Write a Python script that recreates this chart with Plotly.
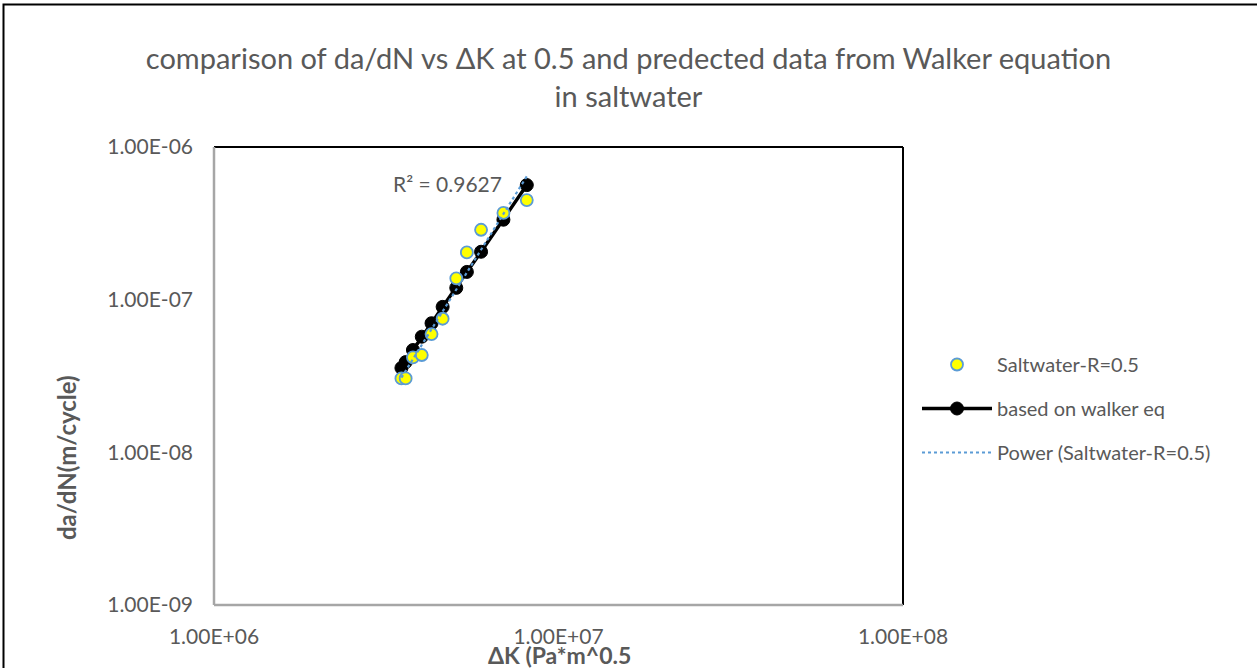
import numpy as np
import plotly.graph_objects as go

# ---- data ----
delta_k = [3.50e6, 3.60e6, 3.78e6, 4.01e6, 4.28e6, 4.61e6, 5.05e6, 5.42e6, 5.96e6, 6.92e6, 8.09e6]
saltwater_dadn = [3.05e-8, 3.05e-8, 4.19e-8, 4.34e-8, 5.95e-8, 7.5e-8, 1.38e-7, 2.04e-7, 2.87e-7, 3.70e-7, 4.49e-7]
walker_dadn = [3.57e-8, 3.90e-8, 4.68e-8, 5.72e-8, 7.01e-8, 8.97e-8, 1.195e-7, 1.52e-7, 2.06e-7, 3.34e-7, 5.63e-7]

x_ticks = [1e6, 1e7, 1e8]
x_tick_text = ["1.00E+06", "1.00E+07", "1.00E+08"]
y_ticks = [1e-9, 1e-8, 1e-7, 1e-6]
y_tick_text = ["1.00E-09", "1.00E-08", "1.00E-07", "1.00E-06"]

title_text = "comparison of da/dN vs \u0394K at 0.5 and predected data from Walker equation<br>in saltwater"
r2_text = "R\u00b2 = 0.9627"

# power trendline (least squares in log-log space, like Excel)
lx = np.log10(delta_k)
ly = np.log10(saltwater_dadn)
b, a = np.polyfit(lx, ly, 1)
trend_x = [min(delta_k), max(delta_k)]
trend_y = [10 ** (a + b * np.log10(v)) for v in trend_x]

FONT = "Lato"
GREY = "#595959"
BLUE = "#5B9BD5"

W, H = 1257, 668
L, R, T, B = 214, 354, 147, 63
PW, PH = W - L - R, H - T - B


def px(xp):
    return (xp - L) / PW


def py(yp):
    return (H - B - yp) / PH


fig = go.Figure()

fig.add_trace(go.Scatter(
    x=delta_k, y=walker_dadn, mode="lines+markers", name="based on walker eq",
    line=dict(color="black", width=3.5),
    marker=dict(color="black", size=13, line=dict(color="black", width=1)),
    legendrank=2, legendgroup="b",
))
fig.add_trace(go.Scatter(
    x=delta_k, y=saltwater_dadn, mode="markers", name="Saltwater-R=0.5",
    marker=dict(color="#FFFF00", size=12, line=dict(color=BLUE, width=1.8)),
    legendrank=1, legendgroup="a",
))
fig.add_trace(go.Scatter(
    x=trend_x, y=trend_y, mode="lines", name="Power (Saltwater-R=0.5)",
    line=dict(color=BLUE, width=2.2, dash="dot"),
    legendrank=3, legendgroup="c",
))

shapes = [
    # outer chart border
    dict(type="rect", xref="paper", yref="paper",
         x0=px(3.5), x1=px(W + 10), y0=py(4.5), y1=py(H + 10),
         line=dict(color="black", width=2), layer="below"),
    # plot area border
    dict(type="line", xref="paper", yref="paper", x0=0, x1=1, y0=1, y1=1,
         line=dict(color="black", width=2)),
    dict(type="line", xref="paper", yref="paper", x0=1, x1=1, y0=0, y1=1,
         line=dict(color="black", width=2)),
    dict(type="line", xref="paper", yref="paper", x0=0, x1=0, y0=0, y1=1,
         line=dict(color="#A6A6A6", width=2.5)),
    dict(type="line", xref="paper", yref="paper", x0=0, x1=1, y0=0, y1=0,
         line=dict(color="#A6A6A6", width=2.5)),
]

annotations = [
    dict(text=r2_text, xref="paper", yref="paper", x=px(447), y=py(183),
         showarrow=False, font=dict(family=FONT, size=21, color=GREY),
         xanchor="center", yanchor="middle"),
    dict(text="<b>\u0394K (Pa*m^0.5</b>", xref="paper", yref="paper", x=px(559), y=py(655),
         showarrow=False, font=dict(family=FONT, size=23, color=GREY),
         xanchor="center", yanchor="middle"),
    dict(text="<b>da/dN(m/cycle)</b>", xref="paper", yref="paper", x=px(66), y=py(458),
         showarrow=False, textangle=-90, font=dict(family=FONT, size=24, color=GREY),
         xanchor="center", yanchor="middle"),
]

fig.update_layout(
    width=W, height=H,
    margin=dict(l=L, r=R, t=T, b=B, autoexpand=False),
    paper_bgcolor="white", plot_bgcolor="white",
    title=dict(text=title_text, x=0.5, xanchor="center", xref="container",
               y=1 - 69 / H, yanchor="middle", yref="container",
               font=dict(family=FONT, size=29, color=GREY)),
    xaxis=dict(type="log", range=[6, 8], tickvals=x_ticks, ticktext=x_tick_text,
               showgrid=False, zeroline=False, showline=False, ticks="",
               ticklabelstandoff=17,
               tickfont=dict(family=FONT, size=21, color=GREY)),
    yaxis=dict(type="log", range=[-9, -6], tickvals=y_ticks, ticktext=y_tick_text,
               showgrid=False, zeroline=False, showline=False, ticks="",
               ticklabelstandoff=20,
               tickfont=dict(family=FONT, size=21, color=GREY)),
    legend=dict(x=px(917), y=py(345), xanchor="left", yanchor="top",
                font=dict(family=FONT, size=20, color=GREY),
                itemwidth=70, traceorder="grouped", tracegroupgap=15,
                bgcolor="rgba(0,0,0,0)"),
    shapes=shapes,
    annotations=annotations,
)

fig.write_html("out.html", config={"displayModeBar": False},
               post_script="document.body.style.margin='0px';")
